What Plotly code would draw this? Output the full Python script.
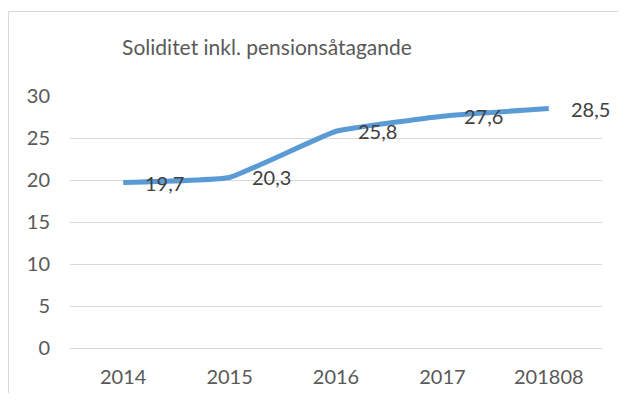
import plotly.graph_objects as go

categories = ["2014", "2015", "2016", "2017", "201808"]
values = [19.7, 20.3, 25.8, 27.6, 28.5]
y_ticks = [0, 5, 10, 15, 20, 25, 30]
title_text = "Soliditet inkl. pensionsåtagande"

# page body has an 8px default margin, so the figure is drawn 8px in
OFF = 8
W, H = 626 - 2 * OFF, 401 - 2 * OFF
L, R, T, B = 70 - OFF, W - (602 - OFF), 96 - OFF, H - (348 - OFF)
pw, ph = W - L - R, H - T - B

def px_x(x):
    return (x - OFF - L) / pw

def px_y(y):
    return (H - B - (y - OFF)) / ph

FONT = "Lato, Open Sans, sans-serif"

fig = go.Figure()
fig.add_trace(go.Scatter(
    x=categories, y=values, mode="lines",
    line=dict(color="#5B9BD5", width=5, shape="spline", smoothing=0.3),
    hoverinfo="skip", showlegend=False,
))

annotations = [
    dict(x=i, y=v, xref="x", yref="y", text=f"{v:.1f}".replace(".", ","),
         showarrow=False, xanchor="left", yanchor="middle", xshift=20,
         font=dict(family=FONT, size=20, color="#404040"))
    for i, v in enumerate(values)
]

fig.update_layout(
    width=W, height=H,
    margin=dict(l=L, r=R, t=T, b=B, autoexpand=False),
    paper_bgcolor="white", plot_bgcolor="white",
    separators=",.",
    font=dict(family=FONT, size=20, color="#595959"),
    title=dict(text=title_text, x=(267 - OFF) / W, xref="container", xanchor="center",
               y=1 - (48 - OFF) / H, yref="container", yanchor="middle",
               font=dict(size=21, color="#595959")),
    xaxis=dict(type="category", range=[-0.5, 4.5], showgrid=False, showline=False,
               ticks="", tickfont=dict(size=20, color="#595959"), ticklabelstandoff=15),
    yaxis=dict(range=[0, 30], tickvals=y_ticks, showgrid=True, gridcolor="#d9d9d9",
               gridwidth=1, zeroline=True, zerolinecolor="#d9d9d9", zerolinewidth=1,
               showline=False, ticks="", tickfont=dict(size=20, color="#595959"),
               ticklabelstandoff=19),
    annotations=annotations,
    shapes=[dict(type="rect", xref="paper", yref="paper",
                 x0=px_x(8.5), x1=px_x(660), y0=px_y(430), y1=px_y(11.5),
                 line=dict(color="#d9d9d9", width=1), fillcolor="rgba(0,0,0,0)",
                 layer="below")],
)

fig.write_html("out.html")
